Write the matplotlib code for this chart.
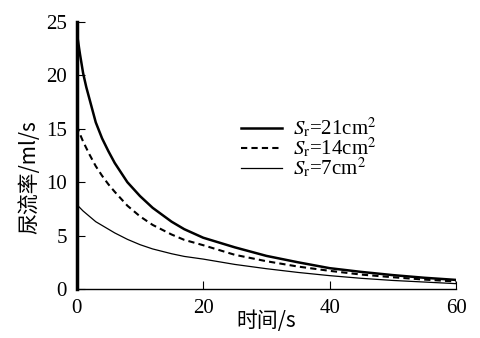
import matplotlib
matplotlib.use("Agg")
import matplotlib.pyplot as plt

plt.rcParams['font.family'] = ['Liberation Serif', 'Noto Sans CJK SC', 'DejaVu Sans']
plt.rcParams['mathtext.fontset'] = 'stix'

# 时间 (s)
t = [0, 0.5, 1, 1.5, 2, 3, 4, 5, 6, 8, 10, 12, 15, 17, 20, 25, 30, 35, 40, 45, 50, 55, 60]
# 尿流率 (ml/s)
q21 = [24.0, 22.0, 20.2, 18.9, 17.8, 15.6, 14.1, 12.9, 11.8, 10.0, 8.7, 7.6, 6.3, 5.6,
       4.8, 3.9, 3.1, 2.5, 1.95, 1.6, 1.3, 1.05, 0.85]
q14 = [15.3, 14.5, 13.8, 13.2, 12.6, 11.5, 10.6, 9.8, 9.1, 7.8, 6.8, 6.0, 5.1, 4.6,
       4.1, 3.2, 2.6, 2.1, 1.7, 1.35, 1.1, 0.88, 0.7]
q7 = [7.9, 7.6, 7.3, 7.05, 6.8, 6.3, 5.95, 5.6, 5.25, 4.65, 4.15, 3.75, 3.3, 3.05,
      2.8, 2.3, 1.9, 1.55, 1.25, 1.0, 0.8, 0.65, 0.5]
labels = [r'$S_\mathrm{r}$=21cm$^2$', r'$S_\mathrm{r}$=14cm$^2$', r'$S_\mathrm{r}$=7cm$^2$']

fig = plt.figure(figsize=(4.8, 3.38), dpi=100)
ax = fig.add_axes([0.16, 0.145, 0.79, 0.79])

ax.plot(t, q21, color='black', lw=1.8, label=labels[0])
ax.plot(t, q14, color='black', lw=1.5, ls=(0, (3, 2)), label=labels[1])
ax.plot(t, q7, color='black', lw=0.9, label=labels[2])

ax.set_xlim(0, 60)
ax.set_ylim(0, 25)
ax.set_xticks([0, 20, 40, 60])
ax.set_yticks([0, 5, 10, 15, 20, 25])
ax.tick_params(direction='in', length=6, width=0.8, labelsize=15, pad=7)
ax.spines['top'].set_visible(False)
ax.spines['right'].set_visible(False)
ax.spines['left'].set_linewidth(2.5)
ax.spines['bottom'].set_linewidth(1.0)

cjk = ['Noto Sans CJK SC', 'DejaVu Sans']
ax.set_xlabel('时间/s', fontsize=15, family=cjk)
ax.set_ylabel('尿流率/ml/s', fontsize=15, family=cjk)
ax.yaxis.set_label_coords(-0.097, 0.42)
ax.xaxis.set_label_coords(0.5, -0.08)

ax.legend(loc='upper left', bbox_to_anchor=(0.405, 0.685), frameon=False, fontsize=15,
          handlelength=2.0, handletextpad=0.5, labelspacing=-0.2, borderpad=0)

fig.savefig('out.png', dpi=100)
